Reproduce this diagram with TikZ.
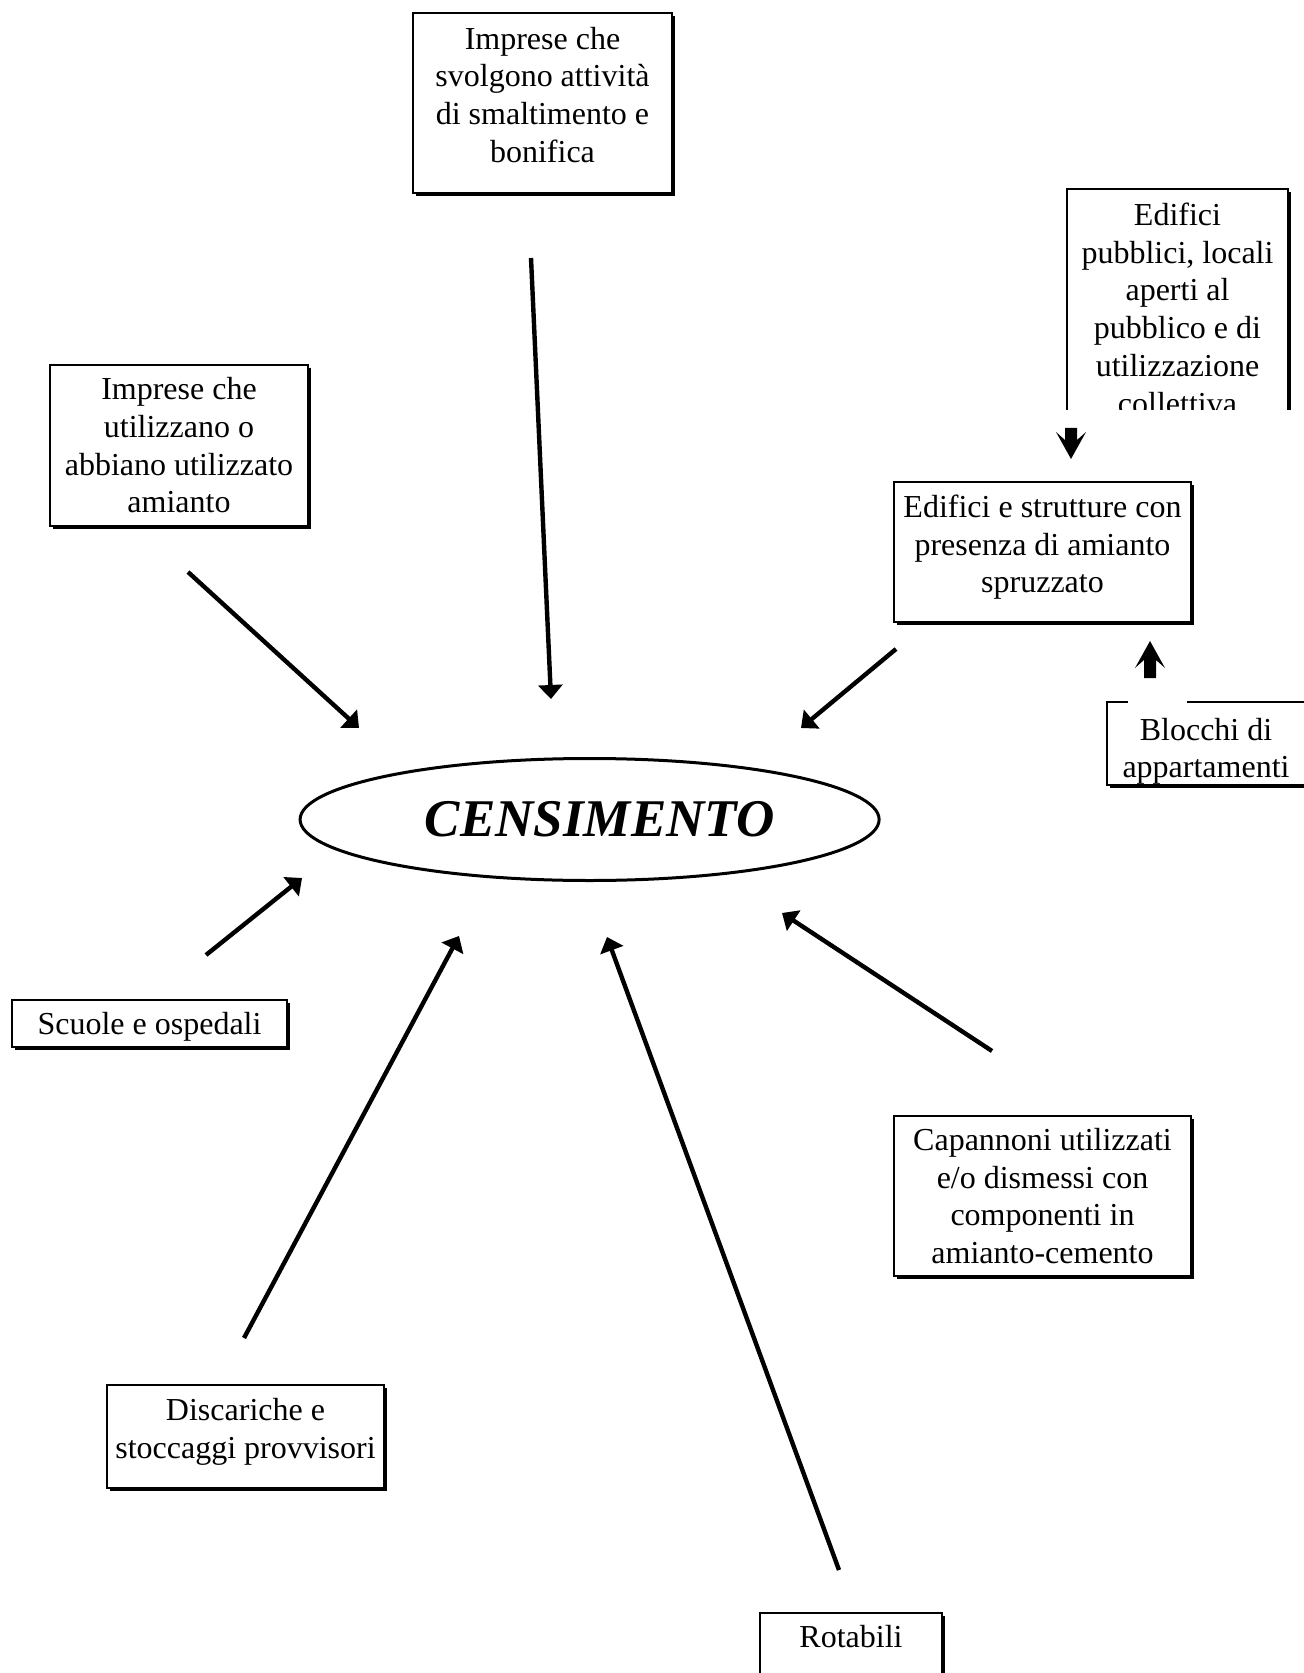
\documentclass[tikz,border=0pt]{standalone}
\usepackage{fontspec}
\setmainfont{Liberation Serif}
\usepackage{tikz}
\usetikzlibrary{arrows.meta,shapes.geometric,shadows}
\tikzset{
  box/.style={draw=black, line width=1pt, fill=white, align=center, inner sep=3pt,
    font=\fontsize{16}{18.85}\selectfont,
    drop shadow={shadow xshift=1.5pt, shadow yshift=-1.5pt, opacity=1, fill=black}},
  hub/.style={ellipse, draw=black, line width=1.5pt, inner sep=0pt,
    minimum width=289.5pt, minimum height=61pt,
    font=\fontsize{26.5}{30}\selectfont\bfseries\itshape},
  feed/.style={draw=black, line width=2.2pt, -{Triangle[length=7pt,width=12pt]}},
  fatarrow/.pic={\fill[black] (0,0) -- (15,-27) -- (6,-19) -- (6,-#1) -- (-6,-#1) -- (-6,-19) -- (-15,-27) -- cycle;},
}

\begin{document}
\begin{tikzpicture}[x=0.5pt,y=-0.5pt]
  \useasboundingbox (0,0) rectangle (1304,1673);
  \clip (0,0) rectangle (1304,1673);

  % centre
  \node[hub] (censimento) at (589.6,819.5) {\hspace*{10pt}CENSIMENTO};

  % sources
  \node[box, minimum width=129.5pt, minimum height=90pt, text depth=8.5pt] (bonifica) at (542.5,103)
    {Imprese che\\ svolgono attività\\ di smaltimento e\\ bonifica};
  \node[box, minimum width=129pt, minimum height=80.5pt] (utilizzo) at (179,445.5)
    {Imprese che\\ utilizzano o\\ abbiano utilizzato\\ amianto};
  \node[box, minimum width=148.5pt, minimum height=70pt, text depth=8pt] (spruzzato) at (1042.5,552)
    {Edifici e strutture con\\ presenza di amianto\\ spruzzato};
  \node[box, minimum width=148.5pt, minimum height=80pt] (capannoni) at (1042.5,1196)
    {Capannoni utilizzati\\ e/o dismessi con\\ componenti in\\ amianto-cemento};
  \node[box, minimum width=137.5pt, minimum height=23.5pt, text depth=0pt] (scuole) at (149.5,1023)
    {Scuole e ospedali};
  \node[box, minimum width=138.5pt, minimum height=51.5pt, text depth=8pt] (discariche) at (245.5,1436.5)
    {Discariche e\\ stoccaggi provvisori};
  \node[box, minimum width=99pt, minimum height=41.5pt, text depth=0pt] (blocchi) at (1206,743.5)
    {\rule{0pt}{15.5pt}Blocchi di\\ appartamenti};
  \draw[white, line width=2pt] (1128,702) -- (1187,702);
  \node[box, anchor=north, minimum width=91pt, inner ysep=6pt, text depth=40pt] (rotabili) at (851,1612)
    {Rotabili};

  \begin{scope}
    \clip (1040,170) rectangle (1300,410);
    \node[box, anchor=north, minimum width=110.5pt, inner ysep=7pt] (pubblici) at (1177.5,188)
      {Edifici\\ pubblici, locali\\ aperti al\\ pubblico e di\\ utilizzazione\\ collettiva};
  \end{scope}

  % arrows
  \coordinate (s1) at (531,258);  \coordinate (t1) at (551,699);
  \coordinate (s2) at (188,572);  \coordinate (t2) at (359,728);
  \coordinate (s3) at (896,649);  \coordinate (t3) at (801,728);
  \coordinate (s4) at (206,955);  \coordinate (t4) at (302,878);
  \coordinate (s5) at (244,1338); \coordinate (t5) at (459,936);
  \coordinate (s6) at (839,1570); \coordinate (t6) at (607,937);
  \coordinate (s7) at (992,1051); \coordinate (t7) at (782,913);
  \foreach \a/\b in {s1/t1,s2/t2,s3/t3,s4/t4,s5/t5,s6/t6,s7/t7}
    \draw[feed] (\a) -- (\b);

  \pic at (1071,459) {fatarrow=31};
  \pic[rotate=180] at (1150,641) {fatarrow=37};
\end{tikzpicture}
\end{document}
